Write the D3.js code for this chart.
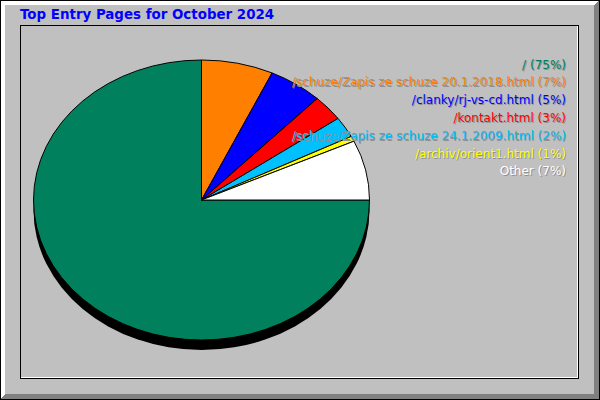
<!DOCTYPE html>
<html>
<head>
<meta charset="utf-8">
<script src="https://cdn.jsdelivr.net/npm/d3@7"></script>
<style>
  body { margin: 0; background: #fff; }
  svg { display: block; }
</style>
</head>
<body>
<div id="chart"></div>
<script>
// DATA
const title = "Top Entry Pages for October 2024";
const pages = [
  "/",
  "/schuze/Zapis ze schuze 20.1.2018.html",
  "/clanky/rj-vs-cd.html",
  "/kontakt.html",
  "/schuze/Zapis ze schuze 24.1.2009.html",
  "/archiv/orient1.html",
  "Other"
];
const shares = [75.0, 6.9, 5.2, 3.0, 2.4, 0.6, 6.9];
const colors = ["#00805c", "#ff8000", "#0000ff", "#ff0000", "#00c0ff", "#ffff00", "#ffffff"];

const W = 600;
const H = 400;

// pie geometry (ellipse with drop shadow)
const cx = 201.5, cy = 200, rx = 168, ry = 140, depth = 10;

const svg = d3
  .select("#chart")
  .append("svg")
  .attr("width", W)
  .attr("height", H)
  .attr("shape-rendering", "crispEdges");

// FRAME
svg.append("rect").attr("width", W).attr("height", H).attr("fill", "#c0c0c0");
// white bevel top/left
svg.append("polygon")
  .attr("points", [[1, 1], [599, 1], [594, 5], [5, 5], [5, 394], [1, 399]].join(" "))
  .attr("fill", "#ffffff");
// dark bevel bottom/right
svg.append("polygon")
  .attr("points", [[599, 1], [599, 399], [1, 399], [5, 394], [594, 394], [594, 5]].join(" "))
  .attr("fill", "#808080");
svg.append("rect")
  .attr("x", 0.5).attr("y", 0.5).attr("width", W - 1).attr("height", H - 1)
  .attr("fill", "none").attr("stroke", "#000");

// inner panel lines
svg.append("path")
  .attr("d", "M20.5,378.5V25.5H578.5V378.5Z")
  .attr("fill", "none").attr("stroke", "#000");
svg.append("path")
  .attr("d", "M21,377.5H577.5V26")
  .attr("fill", "none").attr("stroke", "#fff");

// TITLE
svg.append("text")
  .attr("x", 20)
  .attr("y", 19)
  .attr("font-family", "DejaVu Sans")
  .attr("font-weight", "bold")
  .attr("font-size", 13.4)
  .attr("fill", "#0000ff")
  .text(title);

// PIE
const pie = d3.pie().sort(null).startAngle(Math.PI / 2).endAngle(Math.PI / 2 + 2 * Math.PI);
const arcs = pie(shares);
const arc = d3.arc().innerRadius(0).outerRadius(rx);

const g_pie = svg.append("g").attr("shape-rendering", "auto");

g_pie.append("ellipse")
  .attr("cx", cx).attr("cy", cy + depth)
  .attr("rx", rx).attr("ry", ry)
  .attr("fill", "#000");

g_pie.append("g")
  .attr("transform", "translate(" + cx + "," + cy + ") scale(1," + ry / rx + ")")
  .selectAll("path")
  .data(arcs)
  .join("path")
  .attr("d", arc)
  .attr("fill", (d, i) => colors[i])
  .attr("stroke", "#000")
  .attr("stroke-width", 1)
  .attr("vector-effect", "non-scaling-stroke");

// LEGEND
const y0 = 68.5, dy = 17.8;
const legend = svg.append("g")
  .attr("font-family", "DejaVu Sans")
  .attr("font-size", 12)
  .attr("text-anchor", "end");

pages.forEach((p, i) => {
  const txt = p + " (" + Math.round(shares[i]) + "%)";
  legend.append("text")
    .attr("x", 567).attr("y", y0 + i * dy + 1)
    .attr("fill", "#909090")
    .text(txt);
  legend.append("text")
    .attr("x", 566).attr("y", y0 + i * dy)
    .attr("fill", colors[i])
    .text(txt);
});
</script>
</body>
</html>
